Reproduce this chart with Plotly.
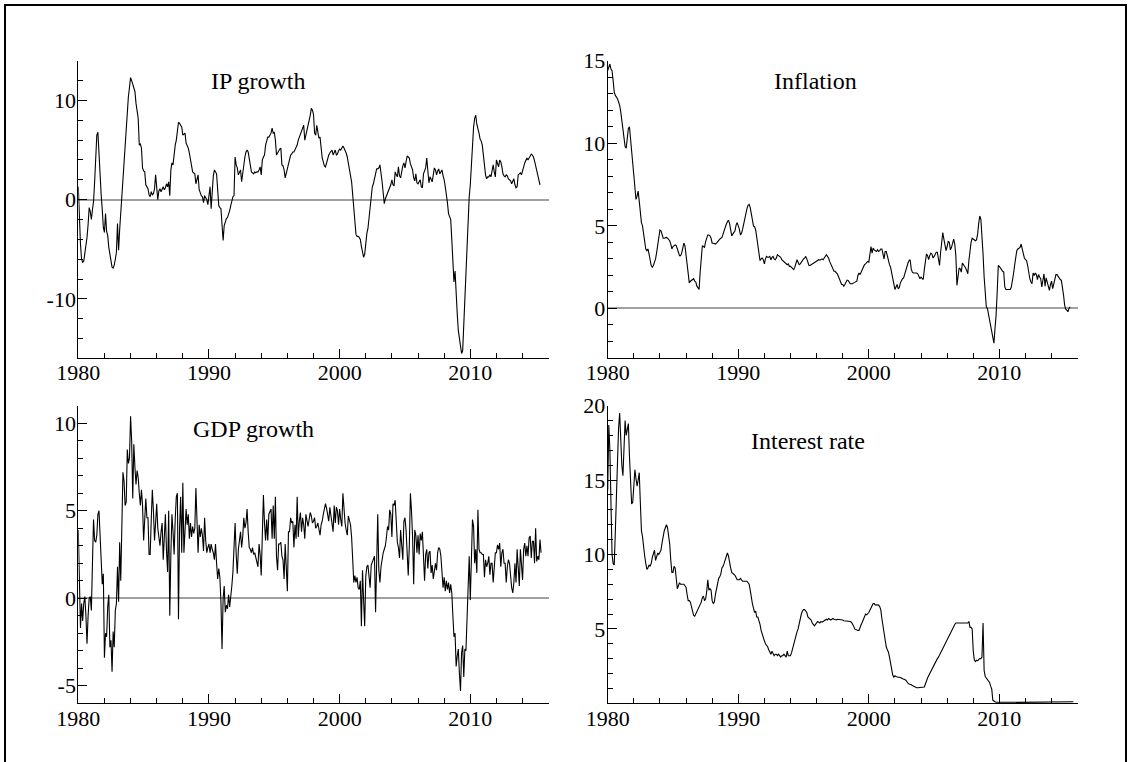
import numpy as np
import plotly.graph_objects as go

START_YEAR = 1980

# ---------------- data (monthly, starting Jan 1980) ----------------
ip_growth = [
    1.3, -2.0, -4.5, -6.0, -6.3, -6.2, -5.5, -4.7, -3.8, -2.5, -0.8, -1.2,   # 1980
    -2.0, -1.0, -0.2, 1.8, 4.0, 6.5, 6.8, 4.2, 2.0, 0.5, -1.0, -2.8,         # 1981
    -3.3, -1.4, -3.2, -3.6, -4.8, -5.6, -6.4, -6.8, -6.9, -6.6, -6.0, -5.3,  # 1982
    -2.4, -5.1, -3.0, -1.3, 0.6, 2.0, 3.3, 5.5, 7.8, 9.0, 10.4, 11.3,        # 1983
    12.3, 12.0, 11.7, 11.3, 10.9, 9.7, 8.9, 8.2, 5.5, 5.6, 5.2, 3.2,         # 1984
    2.9, 2.8, 1.5, 1.2, 1.1, 0.5, 0.3, 0.8, 0.5, 0.6, 1.1, 2.5,              # 1985
    1.2, 0.0, 0.9, 1.1, 0.8, 1.0, 1.3, 1.0, 1.2, 1.6, 1.3, 1.8,              # 1986
    0.4, 3.0, 3.7, 3.5, 5.0, 5.5, 6.0, 6.8, 7.8, 7.7, 7.4, 7.3,              # 1987
    6.5, 6.6, 6.7, 5.7, 5.5, 5.2, 4.7, 3.9, 3.2, 2.8, 2.7, 2.6,              # 1988
    1.6, 2.2, 2.5, 1.0, 0.6, 0.4, 0.3, -0.3, 0.4, 0.2, 0.0, -0.5,            # 1989
    0.2, 1.3, -0.9, 1.5, 2.4, 3.0, 2.7, 2.6, 1.0, -0.6, -0.8, -0.9,          # 1990
    -2.5, -4.1, -2.6, -2.2, -1.9, -1.8, -1.5, -1.1, -0.6, 0.0, 0.3, 0.4,     # 1991
    4.3, 3.5, 3.2, 2.5, 2.8, 3.0, 1.8, 2.8, 3.3, 4.3, 4.8, 5.0,              # 1992
    4.8, 4.2, 3.6, 2.8, 2.7, 2.6, 2.8, 2.7, 2.8, 2.8, 3.0, 3.3,              # 1993
    2.5, 4.0, 4.3, 4.5, 5.5, 5.9, 6.3, 6.3, 6.5, 6.7, 7.2, 6.7,              # 1994
    6.8, 6.0, 4.5, 4.7, 5.0, 5.1, 5.2, 3.5, 3.4, 3.0, 2.2, 2.7,              # 1995
    3.2, 3.8, 4.2, 4.5, 4.6, 4.8, 4.8, 5.0, 5.2, 5.5, 6.0, 6.3,              # 1996
    6.8, 7.0, 7.3, 7.5, 6.0, 6.5, 6.8, 7.5, 8.0, 8.5, 9.2, 9.0,              # 1997
    8.6, 6.7, 6.5, 7.5, 6.8, 6.2, 6.3, 4.7, 4.2, 3.8, 3.4, 3.3,              # 1998
    3.8, 4.2, 4.5, 4.7, 4.9, 5.0, 4.5, 4.8, 5.0, 4.5, 4.6, 4.9,              # 1999
    5.1, 5.0, 5.2, 5.4, 5.2, 5.0, 4.7, 4.3, 3.7, 2.9, 2.3, 1.8,              # 2000
    0.5, -1.2, -2.5, -3.5, -3.7, -3.7, -3.8, -4.0, -4.7, -5.3, -5.8, -5.5,   # 2001
    -4.0, -3.4, -2.9, -1.8, -0.5, 0.6, 1.3, 1.6, 2.2, 2.7, 3.1, 3.1,         # 2002
    3.2, 3.5, 2.8, 1.8, 0.7, -0.4, 0.1, 0.4, 0.6, 0.8, 1.1, 1.5,             # 2003
    2.0, 1.5, 1.4, 2.8, 2.5, 2.3, 3.3, 2.4, 2.2, 3.0, 3.4, 3.7,              # 2004
    3.2, 3.8, 4.4, 4.3, 4.2, 3.6, 3.3, 3.0, 2.2, 1.9, 2.6, 1.7,              # 2005
    1.6, 1.8, 2.0, 1.3, 1.2, 2.6, 2.9, 3.2, 4.2, 2.4, 1.7, 2.3,              # 2006
    2.0, 1.8, 2.5, 3.2, 3.0, 2.5, 2.9, 3.1, 2.6, 2.8, 3.0, 2.4,              # 2007
    2.0, 1.3, 0.6, -0.3, -1.4, -1.8, -2.0, -4.0, -6.5, -8.3, -7.2, -10.0,    # 2008
    -11.5, -13.2, -14.1, -15.2, -15.5, -15.2, -12.5, -10.8, -7.5, -5.0, -2.5, 0.3,  # 2009
    1.5, 3.5, 6.0, 7.3, 8.2, 8.5, 7.6, 7.2, 6.7, 6.1, 5.9, 5.5,              # 2010
    4.3, 3.0, 2.5, 2.1, 2.3, 2.3, 2.5, 2.3, 3.0, 3.5, 2.8, 2.3,              # 2011
    4.0, 3.6, 3.3, 4.0, 3.8, 3.3, 2.6, 2.4, 2.3, 2.5, 2.4, 2.1,              # 2012
    2.0, 1.9, 1.6, 1.9, 2.1, 1.5, 1.2, 1.3, 2.5, 2.6, 2.7, 2.5,              # 2013
    2.8, 3.3, 3.7, 4.0, 4.2, 4.0, 4.2, 4.3, 4.6, 4.5, 4.3, 3.9,              # 2014
    3.4, 2.8, 2.3, 1.9, 1.5,                                                 # 2015
]

inflation = [
    14.4, 14.7, 14.8, 14.5, 14.4, 13.8, 13.1, 12.9, 12.8, 12.7, 12.5, 12.3,  # 1980
    11.9, 11.4, 10.8, 10.3, 9.8, 9.7, 10.5, 10.9, 11.0, 10.3, 9.4, 8.6,      # 1981
    7.9, 7.2, 6.6, 6.8, 7.1, 6.5, 5.8, 5.2, 5.0, 4.5, 4.0, 3.6,              # 1982
    3.5, 3.6, 3.3, 2.9, 2.6, 2.5, 2.6, 2.8, 3.0, 3.4, 3.9, 4.3,              # 1983
    4.75, 4.7, 4.4, 4.25, 4.25, 4.3, 4.3, 4.25, 4.2, 4.1, 3.9, 3.6,          # 1984
    3.75, 3.8, 3.85, 3.8, 3.65, 3.4, 3.2, 3.2, 3.35, 3.65, 3.95, 3.8,        # 1985
    3.3, 2.8, 2.1, 1.55, 1.65, 1.7, 1.7, 1.8, 1.65, 1.6, 1.35, 1.2,          # 1986
    1.15, 2.2, 3.2, 3.8, 3.75, 3.7, 4.05, 4.35, 4.45, 4.45, 4.4, 4.25,       # 1987
    3.95, 3.95, 3.9, 3.9, 3.95, 4.05, 4.15, 4.2, 4.25, 4.3, 4.5, 4.75,       # 1988
    4.95, 5.1, 5.25, 5.35, 5.15, 4.85, 4.4, 4.5, 4.6, 4.7, 5.05, 5.2,        # 1989
    5.0, 4.8, 4.45, 4.55, 4.8, 5.15, 5.4, 5.75, 6.05, 6.25, 6.3, 6.1,        # 1990
    5.8, 5.45, 5.0, 4.95, 4.75, 4.3, 3.8, 3.2, 2.9, 3.0, 3.05, 2.95,         # 1991
    2.7, 3.0, 3.15, 3.1, 3.1, 3.15, 2.95, 3.1, 3.15, 3.0, 2.95, 3.05,        # 1992
    3.25, 3.2, 3.15, 3.1, 2.95, 2.9, 2.85, 2.8, 2.7, 2.65, 2.7, 2.55,        # 1993
    2.55, 2.5, 2.45, 2.35, 2.5, 2.8, 2.95, 2.8, 2.65, 2.7, 2.8, 2.95,        # 1994
    3.0, 3.05, 3.15, 3.0, 2.8, 2.6, 2.6, 2.65, 2.65, 2.7, 2.75, 2.8,         # 1995
    2.85, 2.9, 2.95, 2.92, 2.97, 3.0, 2.95, 3.05, 3.15, 3.25, 3.15, 3.05,    # 1996
    2.85, 2.7, 2.45, 2.3, 2.25, 2.25, 2.2, 2.1, 1.95, 1.8, 1.6, 1.45,        # 1997
    1.45, 1.35, 1.45, 1.65, 1.72, 1.7, 1.6, 1.5, 1.5, 1.5, 1.55, 1.6,        # 1998
    1.6, 1.65, 2.0, 2.15, 2.05, 2.2, 2.4, 2.55, 2.65, 2.7, 2.8, 2.85,        # 1999
    2.8, 3.3, 3.75, 3.35, 3.65, 3.55, 3.5, 3.45, 3.55, 3.45, 3.5, 3.6,       # 2000
    3.6, 3.3, 3.0, 3.45, 3.45, 3.2, 2.85, 2.65, 2.5, 2.2, 1.9, 1.6,          # 2001
    1.15, 1.3, 1.45, 1.2, 1.25, 1.55, 1.7, 1.8, 1.85, 2.1, 2.35, 2.55,       # 2002
    2.75, 2.9, 2.95, 2.4, 2.2, 2.15, 2.15, 2.15, 2.15, 2.1, 1.95, 1.8,       # 2003
    1.9, 1.8, 1.75, 2.35, 3.0, 3.3, 3.2, 2.95, 3.2, 3.35, 3.3, 3.05,         # 2004
    3.15, 3.25, 3.4, 3.4, 2.9, 2.6, 3.4, 3.95, 4.6, 4.2, 3.7, 3.5,           # 2005
    3.75, 4.05, 4.0, 3.55, 3.7, 4.05, 4.2, 3.9, 3.2, 1.4, 1.9, 2.45,         # 2006
    2.4, 2.2, 2.75, 2.65, 2.6, 2.45, 2.3, 2.1, 2.9, 3.5, 4.0, 4.25,          # 2007
    4.2, 4.15, 4.1, 4.15, 4.5, 5.15, 5.6, 5.4, 4.6, 3.3, 1.9, 0.7,           # 2008
    0.1, 0.0, -0.35, -0.7, -1.0, -1.2, -1.6, -2.1, -1.2, -0.4, 1.0, 2.6,     # 2009
    2.55, 2.45, 2.3, 2.25, 2.2, 1.3, 1.15, 1.15, 1.15, 1.15, 1.15, 1.3,      # 2010
    1.6, 2.1, 2.6, 3.15, 3.5, 3.6, 3.65, 3.7, 3.9, 3.6, 3.2, 3.05,           # 2011
    2.95, 2.9, 2.6, 2.1, 1.8, 1.6, 1.5, 2.15, 2.0, 2.15, 2.05, 1.75,         # 2012
    2.05, 1.9, 1.8, 1.3, 1.6, 2.1, 1.35, 1.85, 1.6, 1.3, 1.1, 1.45,          # 2013
    1.65, 1.2, 1.5, 1.95, 2.05, 2.05, 1.95, 1.8, 1.75, 1.7, 1.35, 0.8,       # 2014
    0.2, -0.05, -0.1, -0.2, 0.0, 0.1,                                        # 2015
]

gdp_growth = [
    3.9, 0.5, -1.7, -0.3, -1.3, -0.3, 0.1, -1.0, -2.6, -1.0, 0.0, 0.1,       # 1980
    -0.7, 2.0, 4.5, 3.3, 3.2, 3.6, 4.8, 5.0, 3.5, 1.5, 0.8, 1.4,             # 1981
    -3.4, -2.0, -2.2, -0.5, 0.2, -2.8, -2.4, -4.2, -1.9, -2.8, -0.7, -0.3,   # 1982
    1.8, -0.2, 3.2, 1.0, 4.0, 7.2, 6.7, 5.3, 5.5, 8.5, 7.7, 8.0,             # 1983
    10.4, 9.0, 5.7, 8.8, 7.5, 6.5, 7.3, 6.9, 6.0, 5.3, 6.2, 5.3,             # 1984
    3.3, 5.0, 5.7, 4.6, 4.6, 2.5, 2.5, 4.5, 6.2, 5.0, 3.3, 4.3,              # 1985
    5.4, 4.0, 3.5, 3.0, 3.8, 4.3, 2.2, 3.8, 4.8, 2.7, 1.5, 5.0,              # 1986
    -1.0, 2.5, 4.8, 3.8, 2.5, 4.5, 5.8, 6.0, -1.2, 4.0, 5.8, 2.6,            # 1987
    6.6, 2.6, 4.0, 5.1, 4.2, 4.8, 3.4, 4.3, 3.5, 4.1, 3.7, 4.0,              # 1988
    6.3, 4.0, 2.6, 4.2, 3.5, 4.0, 3.6, 2.7, 4.6, 3.3, 2.6, 2.9,              # 1989
    3.1, 2.6, 3.1, 2.8, 2.6, 2.2, 3.1, 2.0, 1.1, 1.7, 1.2, -0.2,             # 1990
    -2.9, 0.0, 0.7, -0.8, -0.4, -0.6, 0.2, -0.5, 0.0, 0.7, 1.5, 2.6,         # 1991
    4.3, 2.5, 1.4, 2.8, 3.4, 3.8, 2.9, 3.5, 4.6, 4.0, 4.3, 5.1,              # 1992
    3.8, 2.9, 2.8, 2.6, 2.9, 2.5, 2.6, 2.3, 1.9, 1.8, 3.1, 2.5,              # 1993
    1.3, 3.5, 5.9, 4.3, 3.3, 4.5, 3.3, 4.8, 5.0, 5.1, 3.4, 5.3,              # 1994
    3.4, 5.8, 2.4, 1.6, 3.1, 3.1, 3.2, 2.4, 2.2, 1.1, 3.1, 2.0,              # 1995
    0.4, 3.8, 3.8, 4.6, 4.3, 4.4, 2.9, 4.2, 3.4, 5.8, 3.5, 4.4,              # 1996
    4.9, 3.8, 4.6, 4.2, 3.4, 4.8, 4.4, 4.1, 4.5, 4.9, 4.7, 4.3,              # 1997
    4.4, 4.6, 4.0, 4.1, 4.3, 4.0, 3.6, 4.2, 4.4, 4.8, 5.2, 5.4,              # 1998
    5.15, 4.8, 4.4, 5.2, 4.6, 4.2, 3.8, 5.3, 4.3, 5.2, 5.0, 4.2,             # 1999
    5.1, 4.5, 4.1, 6.0, 4.8, 4.3, 3.9, 3.6, 4.7, 4.5, 4.2, 3.5,              # 2000
    1.9, 0.9, 1.3, 0.9, 1.2, 0.6, 0.5, 1.0, -1.6, 1.6, -0.1, -1.6,           # 2001
    1.25, 1.8, 1.9, 1.0, 0.6, 1.9, 2.1, 2.3, 2.4, -0.8, 2.8, 4.8,            # 2002
    1.6, 0.9, 1.8, 2.3, 2.6, 2.8, 3.0, 3.5, 4.1, 3.9, 5.05, 4.8,             # 2003
    3.5, 5.4, 5.3, 5.6, 4.4, 3.2, 2.9, 2.3, 3.9, 2.8, 2.2, 4.4,              # 2004
    4.6, 3.9, 2.8, 1.3, 3.0, 6.0, 5.0, 3.5, 0.8, 3.9, 3.6, 2.6,              # 2005
    3.6, 2.5, 3.7, 3.3, 3.8, 1.9, 1.0, 2.5, 2.8, 1.7, 2.6, 2.7,              # 2006
    1.45, 1.9, 1.1, 1.55, 2.0, 1.6, 2.6, 2.9, 2.8, 2.4, 1.6, 0.6,            # 2007
    1.2, 0.4, 1.0, 0.5, 0.9, 0.3, 0.8, 0.3, -1.0, -2.2, -2.0, -3.9,          # 2008
    -3.3, -2.9, -4.3, -5.3, -3.1, -2.7, -4.5, -2.9, -3.0, -1.4, 0.1, 2.4,    # 2009
    -0.1, 2.4, 4.5, 4.1, 2.0, 2.8, 1.45, 5.05, 2.8, 2.6, 2.6, 2.5,           # 2010
    2.5, 1.2, 2.2, 1.8, 2.0, 2.4, 1.35, 2.0, 2.0, 0.9, 1.8, 2.6,             # 2011
    2.6, 3.05, 2.8, 3.15, 1.8, 2.6, 2.8, 2.0, 2.0, 0.9, 1.8, 2.2,            # 2012
    2.0, 1.2, 0.6, 0.3, 0.9, 2.0, 0.9, 2.8, 1.5, 0.7, 2.8, 2.0,              # 2013
    1.05, 2.8, 3.15, 2.4, 3.0, 2.4, 3.45, 3.55, 2.3, 3.25, 3.25, 2.0,        # 2014
    4.0, 2.1, 2.4, 2.2, 3.35, 2.6,                                           # 2015
]

interest_rate = [
    14.3, 18.7, 17.0, 13.5, 10.0, 9.4, 9.3, 11.5, 14.0, 16.5, 18.5, 19.5,    # 1980
    17.5, 16.0, 15.3, 17.5, 19.0, 18.0, 18.6, 18.8, 16.6, 15.0, 13.4, 13.5,  # 1981
    14.5, 15.7, 15.1, 14.6, 15.0, 15.5, 13.5, 11.6, 11.2, 10.3, 9.9, 9.4,    # 1982
    9.0, 9.1, 9.3, 9.2, 9.4, 9.8, 10.1, 10.3, 9.6, 9.8, 10.1, 10.0,          # 1983
    10.2, 10.3, 10.8, 11.4, 11.6, 11.8, 12.0, 11.8, 11.3, 10.7, 9.6, 8.8,    # 1984
    8.8, 9.2, 9.1, 8.3, 7.7, 7.9, 8.1, 8.0, 8.0, 8.0, 8.0, 7.9,              # 1985
    7.8, 7.3, 6.9, 6.9, 6.8, 6.5, 6.1, 5.9, 5.85, 6.0, 6.2, 6.3,             # 1986
    6.4, 6.6, 6.8, 7.1, 7.2, 6.9, 7.0, 7.5, 8.3, 7.6, 7.7, 7.6,              # 1987
    6.9, 6.7, 6.8, 7.3, 7.7, 8.1, 8.4, 8.5, 8.7, 9.1, 9.2, 9.4,              # 1988
    9.6, 9.9, 10.1, 9.9, 9.4, 9.1, 8.8, 8.75, 8.7, 8.6, 8.45, 8.3,           # 1989
    8.3, 8.3, 8.4, 8.3, 8.2, 8.2, 8.2, 8.2, 8.2, 8.1, 8.0, 7.6,              # 1990
    7.0, 6.7, 6.4, 6.1, 6.2, 5.8, 5.8, 5.6, 5.3, 4.9, 4.6, 4.4,              # 1991
    4.2, 4.0, 3.9, 3.8, 3.6, 3.4, 3.3, 3.5, 3.3, 3.2, 3.3, 3.3,              # 1992
    3.2, 3.3, 3.2, 3.1, 3.2, 3.2, 3.3, 3.2, 3.1, 3.5, 3.2, 3.2,              # 1993
    3.2, 3.4, 3.7, 4.0, 4.4, 4.6, 4.8, 5.0, 5.4, 5.6, 6.0, 6.2,              # 1994
    6.3, 6.3, 6.2, 6.1, 5.8, 5.75, 5.7, 5.6, 5.4, 5.3, 5.2, 5.3,             # 1995
    5.4, 5.5, 5.45, 5.4, 5.5, 5.45, 5.5, 5.55, 5.6, 5.65, 5.6, 5.7,          # 1996
    5.65, 5.6, 5.65, 5.7, 5.65, 5.6, 5.6, 5.65, 5.65, 5.65, 5.6, 5.6,        # 1997
    5.6, 5.55, 5.55, 5.55, 5.55, 5.55, 5.55, 5.5, 5.45, 5.35, 5.2, 5.0,      # 1998
    4.95, 4.9, 4.9, 4.9, 5.15, 5.3, 5.45, 5.6, 5.85, 6.0, 5.95, 6.0,         # 1999
    6.1, 6.25, 6.4, 6.55, 6.7, 6.7, 6.6, 6.62, 6.6, 6.6, 6.5, 6.3,           # 2000
    5.7, 5.2, 4.8, 4.2, 3.8, 3.6, 3.45, 3.1, 2.7, 2.15, 1.9, 1.75,           # 2001
    1.85, 1.8, 1.75, 1.75, 1.75, 1.75, 1.7, 1.65, 1.65, 1.6, 1.55, 1.4,      # 2002
    1.35, 1.3, 1.3, 1.25, 1.2, 1.15, 1.1, 1.05, 1.05, 1.05, 1.05, 1.05,      # 2003
    1.05, 1.05, 1.05, 1.1, 1.3, 1.55, 1.7, 1.85, 2.0, 2.2, 2.35, 2.45,       # 2004
    2.6, 2.75, 2.85, 3.0, 3.1, 3.25, 3.45, 3.55, 3.7, 3.9, 4.0, 4.2,         # 2005
    4.35, 4.5, 4.65, 4.8, 4.95, 5.05, 5.2, 5.3, 5.4, 5.4, 5.4, 5.35,         # 2006
    5.35, 5.35, 5.35, 5.35, 5.35, 5.35, 5.35, 5.4, 5.5, 5.1, 5.1, 5.0,       # 2007
    3.5, 2.9, 2.8, 2.9, 2.85, 2.95, 3.0, 3.0, 3.1, 5.4, 2.2, 1.8,            # 2008
    1.7, 1.6, 1.55, 1.4, 1.15, 0.95, 0.2, 0.12, 0.1, 0.08, 0.08, 0.08,       # 2009
    0.07, 0.08, 0.1, 0.12, 0.12, 0.11, 0.11, 0.12, 0.12, 0.12, 0.12, 0.11,   # 2010
    0.1, 0.1, 0.09, 0.07, 0.06, 0.06, 0.05, 0.07, 0.05, 0.05, 0.05, 0.05,    # 2011
    0.05, 0.06, 0.08, 0.09, 0.1, 0.1, 0.1, 0.08, 0.09, 0.1, 0.1, 0.1,        # 2012
    0.09, 0.1, 0.09, 0.1, 0.07, 0.06, 0.06, 0.05, 0.05, 0.06, 0.05, 0.06,    # 2013
    0.05, 0.05, 0.05, 0.06, 0.06, 0.07, 0.06, 0.06, 0.06, 0.06, 0.06, 0.08,  # 2014
    0.07, 0.07, 0.07, 0.08, 0.08, 0.09, 0.09, 0.1, 0.1,                      # 2015
]

panel_titles = ["IP growth", "Inflation", "GDP growth", "Interest rate"]
x_tick_years = [1980, 1990, 2000, 2010]
x_tick_labels = ["1980", "1990", "2000", "2010"]

ip_ticks = [-10, 0, 10]
ip_tick_labels = ["-10", "0", "10"]
inflation_ticks = [0, 5, 10, 15]
inflation_tick_labels = ["0", "5", "10", "15"]
gdp_ticks = [-5, 0, 5, 10]
gdp_tick_labels = ["-5", "0", "5", "10"]
interest_ticks = [5, 10, 15, 20]
interest_tick_labels = ["5", "10", "15", "20"]


def month_axis(values):
    return START_YEAR + np.arange(len(values)) / 12.0


W, H = 1131, 762
FONT = "Liberation Serif"


def px_x(a, b):
    return [a / W, b / W]


def px_y(top, bottom):
    return [1 - bottom / H, 1 - top / H]


left_dom = px_x(78.3, 548.7)
right_dom = px_x(607.7, 1077.7)
top_dom = px_y(60.7, 358.0)
bot_dom = px_y(405.7, 703.3)

fig = go.Figure()

series = [
    (ip_growth, "x", "y"),
    (inflation, "x2", "y2"),
    (gdp_growth, "x3", "y3"),
    (interest_rate, "x4", "y4"),
]
for vals, xa, ya in series:
    fig.add_trace(go.Scatter(
        x=month_axis(vals), y=vals, mode="lines",
        line=dict(color="black", width=1.1),
        xaxis=xa, yaxis=ya, showlegend=False, hoverinfo="skip",
        cliponaxis=True,
    ))

tickfont = dict(family=FONT, size=22, color="black")


def xaxis_cfg(domain, anchor):
    return dict(
        domain=domain, anchor=anchor, range=[1980, 2016],
        tickmode="array", tickvals=x_tick_years, ticktext=x_tick_labels,
        ticks="inside", ticklen=9, tickwidth=1, tickcolor="black",
        minor=dict(ticks="inside", ticklen=5, tickwidth=1, tickcolor="black",
                   tickmode="linear", tick0=1980, dtick=2, showgrid=False),
        showline=True, linecolor="black", linewidth=1,
        showgrid=False, zeroline=False, tickfont=tickfont, fixedrange=True,
        automargin=False, ticklabelstandoff=-5,
    )


def yaxis_cfg(domain, anchor, rng, tv, tt, minor_dtick, zero=True):
    return dict(
        domain=domain, anchor=anchor, range=rng,
        tickmode="array", tickvals=tv, ticktext=tt,
        ticks="inside", ticklen=9, tickwidth=1, tickcolor="black",
        minor=dict(ticks="inside", ticklen=5, tickwidth=1, tickcolor="black",
                   tickmode="linear", tick0=0, dtick=minor_dtick, showgrid=False),
        showline=True, linecolor="black", linewidth=1,
        showgrid=False, zeroline=zero, zerolinecolor="#a0a0a0", zerolinewidth=1.5,
        tickfont=tickfont, fixedrange=True,
        automargin=False, ticklabelstandoff=-3,
    )


fig.update_layout(
    width=W, height=H,
    margin=dict(l=0, r=0, t=0, b=0, pad=0, autoexpand=False),
    paper_bgcolor="white", plot_bgcolor="white",
    font=dict(family=FONT, color="black"),
    xaxis=xaxis_cfg(left_dom, "y"),
    yaxis=yaxis_cfg(top_dom, "x", [-15.95, 14], ip_ticks, ip_tick_labels, 2),
    xaxis2=xaxis_cfg(right_dom, "y2"),
    yaxis2=yaxis_cfg(top_dom, "x2", [-3, 15], inflation_ticks, inflation_tick_labels, 1),
    xaxis3=xaxis_cfg(left_dom, "y3"),
    yaxis3=yaxis_cfg(bot_dom, "x3", [-6, 11], gdp_ticks, gdp_tick_labels, 1),
    xaxis4=xaxis_cfg(right_dom, "y4"),
    yaxis4=yaxis_cfg(bot_dom, "x4", [0, 20], interest_ticks, interest_tick_labels, 1, zero=False),
)

title_pos = [(258, 81), (815, 81), (253, 429), (808, 441)]
for text, (cx, cy) in zip(panel_titles, title_pos):
    fig.add_annotation(
        x=cx / W, y=1 - cy / H, xref="paper", yref="paper",
        text=text, showarrow=False, xanchor="center", yanchor="middle",
        font=dict(family=FONT, size=24, color="black"),
    )

# outer frame
fig.add_shape(type="rect", xref="paper", yref="paper",
              x0=5 / W, x1=1126 / W, y0=-0.05, y1=1 - 5 / H,
              line=dict(color="black", width=2), fillcolor="rgba(0,0,0,0)")

fig.write_html(
    "out.html",
    config={"displayModeBar": False, "responsive": False},
    post_script="document.body.style.margin='0';document.body.style.overflow='hidden';",
)
